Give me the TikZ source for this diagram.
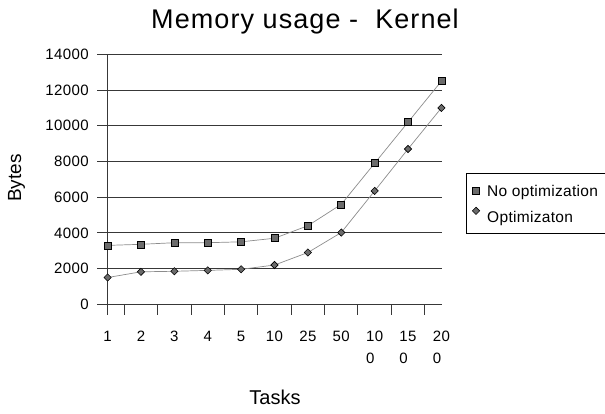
\documentclass[tikz,border=0pt]{standalone}
\usepackage{fontspec}
\setmainfont{Liberation Sans}
\usetikzlibrary{shapes.geometric}
\definecolor{gridc}{gray}{0.22}
\definecolor{serline}{gray}{0.55}
\definecolor{markfill}{gray}{0.42}
\begin{document}
\begin{tikzpicture}[x=1pt,y=-1pt,
  gridline/.style={draw=gridc, line width=1pt},
  axisline/.style={draw=gridc, line width=1pt},
  series/.style={draw=serline, line width=0.7pt},
  sqmark/.style={rectangle, draw=black, fill=markfill, line width=0.6pt,
    minimum size=7pt, inner sep=0pt},
  dmmark/.style={diamond, draw=black, fill=markfill, line width=0.6pt,
    minimum size=7.5pt, inner sep=0pt},
  ticklabel/.style={font=\fontsize{15}{22.6}\selectfont\addfontfeature{LetterSpace=3}, inner sep=0pt},
  legendtext/.style={font=\fontsize{15.5}{18}\selectfont\addfontfeature{LetterSpace=2}, inner sep=0pt, anchor=base west},
  legendbox/.style={draw=black, fill=white, line width=1pt}]
\useasboundingbox (0,0) rectangle (605,413);

% title
\node[font=\fontsize{27}{32}\selectfont\addfontfeature{LetterSpace=4}, anchor=base, inner sep=0pt]
  (title) at (305,28.3) {Memory usage -\ \ Kernel};

% horizontal grid lines and value labels (0 .. 14000)
\foreach \v [count=\j from 0] in {0,2000,...,14000} {
  \pgfmathsetmacro\yy{304.3-\v*0.017857}
  \draw[gridline] (97.3,\yy) -- (441.6,\yy);
  \node[ticklabel, anchor=east] (yl\j) at (89,\yy) {\v};
}

% category axis with tick marks between categories
\draw[axisline] (107.6,54.3) -- (107.6,315.3);
\foreach \k in {0,...,9} {
  \pgfmathsetmacro\xx{124.3+33.38*\k}
  \draw[axisline] (\xx,304.3) -- (\xx,315.3);
}

% category labels
\foreach \t [count=\i from 0] in {1,2,3,4,5,10,25,50,10\\0,15\\0,20\\0} {
  \node[ticklabel, align=left, anchor=north] (xl\i) at ({107.6+33.38*\i},330.7) {\t};
}

% axis titles
\node[font=\fontsize{19}{22}\selectfont, rotate=90, anchor=base, inner sep=0pt]
  (ytitle) at (21,178) {Bytes};
\node[font=\fontsize{20}{24}\selectfont, anchor=base, inner sep=0pt]
  (xtitle) at (275,404.3) {Tasks};

% series: no optimization
\foreach \v [count=\i from 0] in {3300,3360,3450,3450,3500,3700,4400,5600,7900,10200,12500} {
  \coordinate (n\i) at ({107.6+33.38*\i},{304.3-\v*0.017857});
}
% series: optimization
\foreach \v [count=\i from 0] in {1500,1820,1850,1900,1960,2200,2900,4020,6350,8700,11000} {
  \coordinate (o\i) at ({107.6+33.38*\i},{304.3-\v*0.017857});
}
\draw[series] (n0) \foreach \i in {1,...,10} { -- (n\i) };
\draw[series] (o0) \foreach \i in {1,...,10} { -- (o\i) };
\foreach \i in {0,...,10} {
  \node[sqmark] (ns\i) at (n\i) {};
  \node[dmmark] (od\i) at (o\i) {};
}

% legend
\begin{scope}
\clip (0,0) rectangle (605,413);
\draw[legendbox] (466,173.3) rectangle (607,233.7);
\end{scope}
\node[sqmark] (lg1) at (476,190.6) {};
\node[dmmark] (lg2) at (476,210.8) {};
\node[legendtext] (lt1) at (487,196) {No optimization};
\node[legendtext] (lt2) at (487,222) {Optimizaton};
\end{tikzpicture}
\end{document}
